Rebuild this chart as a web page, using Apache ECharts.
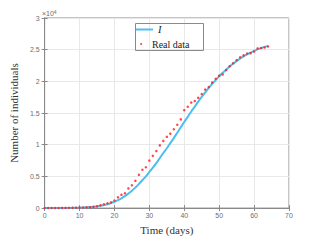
<!DOCTYPE html>
<html><head><meta charset="utf-8">
<script src="https://cdn.jsdelivr.net/npm/echarts@6/dist/echarts.min.js"></script>
<style>html,body{margin:0;padding:0;background:#fff}#c{width:320px;height:240px}</style>
</head><body><div id="c"></div>
<script>
// Days (x) for both series
const days = [0,1,2,3,4,5,6,7,8,9,10,11,12,13,14,15,16,17,18,19,20,21,22,23,24,25,26,27,28,29,30,31,32,33,34,35,36,37,38,39,40,41,42,43,44,45,46,47,48,49,50,51,52,53,54,55,56,57,58,59,60,61,62,63,64];
// Model curve I (units of 1e4 individuals)
const modelI = [0.0005,0.0006,0.0008,0.001,0.0013,0.0017,0.0022,0.003,0.004,0.005,0.0065,0.009,0.012,0.016,0.021,0.028,0.036,0.047,0.06,0.078,0.10,0.125,0.155,0.19,0.23,0.275,0.325,0.38,0.44,0.50,0.57,0.64,0.71,0.79,0.87,0.945,1.025,1.105,1.19,1.275,1.36,1.44,1.525,1.60,1.68,1.755,1.825,1.895,1.96,2.02,2.08,2.135,2.185,2.235,2.28,2.32,2.36,2.395,2.425,2.455,2.48,2.505,2.525,2.545,2.56];
// Real data (units of 1e4 individuals)
const realData = [0.001,0.001,0.001,0.002,0.002,0.003,0.003,0.004,0.005,0.006,0.007,0.009,0.012,0.015,0.02,0.028,0.045,0.06,0.075,0.09,0.12,0.17,0.21,0.235,0.31,0.36,0.43,0.525,0.605,0.645,0.75,0.825,0.90,0.99,1.06,1.125,1.175,1.245,1.315,1.40,1.545,1.60,1.665,1.69,1.74,1.80,1.87,1.91,1.98,2.04,2.09,2.11,2.18,2.24,2.285,2.335,2.38,2.41,2.44,2.445,2.47,2.52,2.525,2.535,2.55];
// Tick labels
const xTicks = [0,10,20,30,40,50,60,70];
const yTicks = ['0','0.5','1','1.5','2','2.5','3'];
const seriesNames = ['I','Real data'];
const xLabel = 'Time (days)';
const yLabel = 'Number of individuals';

const chart = echarts.init(document.getElementById('c'), null, {renderer:'svg'});
const axisCol = '#8a8a8a';
const tickFont = {fontFamily:'Liberation Sans, Arial, sans-serif', fontSize:7, color:'#6e6e6e'};
const serif = 'Liberation Serif, DejaVu Serif, serif';
chart.setOption({
  animation:false,
  backgroundColor:'#fff',
  title:{text:'×10{s|4}', left:42, top:9, padding:0, textStyle:{fontSize:7, fontWeight:'normal', color:'#6e6e6e', fontFamily:'Liberation Sans, Arial, sans-serif', rich:{s:{fontSize:5, verticalAlign:'top', padding:[0,0,4,0], color:'#6e6e6e'}}}},
  grid:{left:42, right:31, top:18, bottom:26, show:true, borderColor:axisCol, borderWidth:1},
  legend:[
    {data:[{name:seriesNames[0], icon:'rect'}], left:135, top:24, itemWidth:18, itemHeight:2, itemGap:0, padding:0,
     textStyle:{fontFamily:serif, fontStyle:'italic', fontSize:10.5, color:'#222'}},
    {data:[{name:seriesNames[1], icon:'circle'}], left:140, top:39, itemWidth:12, itemHeight:2, itemGap:0, padding:0,
     textStyle:{fontFamily:serif, fontSize:10, color:'#222'}}
  ],
  graphic:[{type:'rect', left:133, top:21, shape:{width:68, height:27}, style:{fill:'none', stroke:axisCol, lineWidth:1}, z:100}],
  xAxis:[
    {type:'value', min:0, max:70, interval:10, name:xLabel, nameLocation:'middle', nameGap:15,
     nameTextStyle:{fontFamily:serif, fontSize:11, color:'#333'},
     axisLine:{show:true, lineStyle:{color:axisCol}}, axisTick:{show:true, inside:true, length:3, lineStyle:{color:axisCol}},
     axisLabel:Object.assign({margin:4, formatter:v=>xTicks.includes(v)?String(v):''}, tickFont),
     splitLine:{show:true, lineStyle:{color:'#e8e8e8', width:1}}},
    {type:'value', position:'top', min:0, max:70, interval:10, axisLine:{show:true, lineStyle:{color:axisCol}},
     axisTick:{show:true, inside:true, length:3, lineStyle:{color:axisCol}}, axisLabel:{show:false}, splitLine:{show:false}}
  ],
  yAxis:[
    {type:'value', min:0, max:3, interval:0.5, name:yLabel, nameLocation:'middle', nameGap:25, nameRotate:90,
     nameTextStyle:{fontFamily:serif, fontSize:11, color:'#333'},
     axisLine:{show:true, lineStyle:{color:axisCol}}, axisTick:{show:true, inside:true, length:3, lineStyle:{color:axisCol}},
     axisLabel:Object.assign({margin:5, formatter:v=>{const s=String(v);return yTicks.includes(s)?s:'';}}, tickFont),
     splitLine:{show:true, lineStyle:{color:'#e8e8e8', width:1}}},
    {type:'value', position:'right', min:0, max:3, interval:0.5, axisLine:{show:true, lineStyle:{color:axisCol}},
     axisTick:{show:true, inside:true, length:3, lineStyle:{color:axisCol}}, axisLabel:{show:false}, splitLine:{show:false}}
  ],
  series:[
    {name:seriesNames[0], type:'line', data:days.map((d,i)=>[d, modelI[i]]), showSymbol:false, symbol:'none', smooth:true,
     lineStyle:{color:'#4DBEEE', width:2}, itemStyle:{color:'#4DBEEE'}, z:2},
    {name:seriesNames[1], type:'scatter', data:days.map((d,i)=>[d, realData[i]]), symbol:'circle', symbolSize:2.5,
     itemStyle:{color:'#ff1a1a'}, z:3}
  ]
});
</script></body></html>
